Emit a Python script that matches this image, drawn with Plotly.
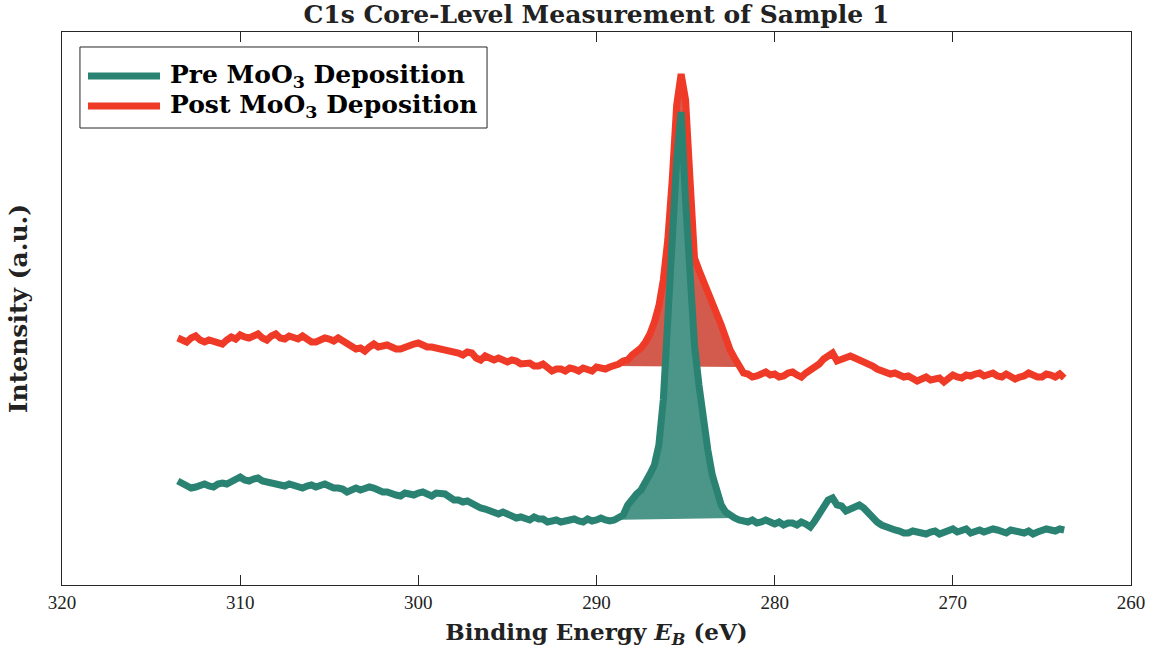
import plotly.graph_objects as go

# Binding energy grid (eV), 0.25 eV steps
energy = [313.5, 313.25, 313.0, 312.75, 312.5, 312.25, 312.0, 311.75, 311.5, 311.25,
          311.0, 310.75, 310.5, 310.25, 310.0, 309.75, 309.5, 309.25, 309.0, 308.75,
          308.5, 308.25, 308.0, 307.75, 307.5, 307.25, 307.0, 306.75, 306.5, 306.25,
          306.0, 305.75, 305.5, 305.25, 305.0, 304.75, 304.5, 304.25, 304.0, 303.75,
          303.5, 303.25, 303.0, 302.75, 302.5, 302.25, 302.0, 301.75, 301.5, 301.25,
          301.0, 300.75, 300.5, 300.25, 300.0, 299.75, 299.5, 299.25, 299.0, 298.75,
          298.5, 298.25, 298.0, 297.75, 297.5, 297.25, 297.0, 296.75, 296.5, 296.25,
          296.0, 295.75, 295.5, 295.25, 295.0, 294.75, 294.5, 294.25, 294.0, 293.75,
          293.5, 293.25, 293.0, 292.75, 292.5, 292.25, 292.0, 291.75, 291.5, 291.25,
          291.0, 290.75, 290.5, 290.25, 290.0, 289.75, 289.5, 289.25, 289.0, 288.75,
          288.5, 288.25, 288.0, 287.75, 287.5, 287.25, 287.0, 286.75, 286.5, 286.25,
          286.0, 285.75, 285.5, 285.25, 285.0, 284.75, 284.5, 284.25, 284.0, 283.75,
          283.5, 283.25, 283.0, 282.75, 282.5, 282.25, 282.0, 281.75, 281.5, 281.25,
          281.0, 280.75, 280.5, 280.25, 280.0, 279.75, 279.5, 279.25, 279.0, 278.75,
          278.5, 278.25, 278.0, 277.75, 277.5, 277.25, 277.0, 276.75, 276.5, 276.25,
          276.0, 275.75, 275.5, 275.25, 275.0, 274.75, 274.5, 274.25, 274.0, 273.75,
          273.5, 273.25, 273.0, 272.75, 272.5, 272.25, 272.0, 271.75, 271.5, 271.25,
          271.0, 270.75, 270.5, 270.25, 270.0, 269.75, 269.5, 269.25, 269.0, 268.75,
          268.5, 268.25, 268.0, 267.75, 267.5, 267.25, 267.0, 266.75, 266.5, 266.25,
          266.0, 265.75, 265.5, 265.25, 265.0, 264.75, 264.5, 264.25, 264.0, 263.75]

# Intensity (a.u., vertically offset for display)
post_moo3 = [247, 244, 243, 247, 249, 245, 243, 245, 244, 242,
             241, 245, 248, 246, 250, 248, 247, 249, 251, 247,
             245, 249, 251, 247, 246, 249, 248, 246, 249, 246,
             243, 243, 245, 247, 246, 244, 247, 244, 240, 239,
             236, 237, 234, 238, 241, 238, 239, 240, 238, 236,
             236, 238, 239, 241, 242, 239, 238, 238, 237, 237,
             235, 234, 233, 232, 230, 233, 232, 227, 225, 229,
             227, 225, 227, 224, 223, 225, 224, 221, 221, 222,
             219, 219, 221, 217, 214, 216, 216, 214, 217, 216,
             214, 217, 216, 214, 218, 217, 216, 218, 219, 221,
             224, 225, 230, 233, 237, 243, 251, 263, 279, 305,
             345, 405, 480, 511, 485, 405, 327, 315, 305, 293,
             283, 271, 260, 247, 235, 227, 218, 212, 211, 208,
             209, 211, 213, 210, 211, 208, 209, 212, 213, 210,
             208, 212, 215, 217, 221, 226, 229, 232, 224, 226,
             227, 229, 227, 225, 223, 222, 219, 216, 214, 212,
             211, 212, 210, 208, 209, 207, 204, 206, 208, 205,
             206, 207, 203, 206, 210, 208, 207, 210, 209, 211,
             212, 209, 211, 212, 209, 208, 211, 209, 206, 208,
             209, 212, 210, 208, 208, 211, 210, 208, 211, 207]

pre_moo3 = [104, 101, 100, 97, 98, 100, 101, 99, 98, 101,
            102, 101, 104, 105, 108, 105, 104, 106, 107, 104,
            103, 103, 101, 101, 99, 101, 100, 98, 97, 99,
            100, 98, 99, 101, 99, 97, 97, 96, 93, 96,
            97, 95, 96, 98, 97, 95, 93, 93, 91, 90,
            89, 92, 91, 90, 92, 93, 91, 89, 92, 91,
            91, 88, 85, 85, 83, 84, 81, 79, 77, 76,
            74, 72, 71, 73, 71, 68, 67, 68, 66, 65,
            68, 66, 66, 63, 64, 65, 63, 64, 65, 66,
            64, 63, 66, 64, 65, 67, 65, 64, 65, 67,
            70, 80, 86, 91, 95, 102, 111, 120, 140, 185,
            255, 345, 425, 473, 385, 310, 240, 200, 160, 135,
            110, 93, 80, 73, 69, 67, 65, 64, 63, 65,
            62, 63, 65, 63, 61, 63, 60, 62, 62, 60,
            63, 61, 58, 64, 72, 79, 85, 87, 80, 79,
            74, 76, 78, 80, 77, 72, 66, 63, 60, 58,
            56, 55, 54, 52, 52, 54, 53, 52, 51, 53,
            54, 51, 53, 55, 56, 53, 54, 56, 52, 54,
            55, 53, 54, 56, 55, 53, 52, 55, 54, 53,
            52, 54, 51, 53, 54, 56, 55, 54, 56, 55]

# Integration windows for the C1s peak (eV)
post_window = [289.0, 282.0]
pre_window = [289.5, 282.25]

series_names = ["Pre MoO<sub>3</sub> Deposition", "Post MoO<sub>3</sub> Deposition"]
x_ticks = [320, 310, 300, 290, 280, 270, 260]

RED = "#F03A28"
RED_FILL = "#D35B4D"
GREEN = "#2A8272"
GREEN_FILL = "#4B9688"


def peak_fill(xs, ys, window):
    hi, lo = window
    sel = [(x, y) for x, y in zip(xs, ys) if lo <= x <= hi]
    px = [p[0] for p in sel]
    py = [p[1] for p in sel]
    px += [px[-1], px[0]]
    py += [py[-1], py[0]]
    return px, py


fig = go.Figure()

fx, fy = peak_fill(energy, post_moo3, post_window)
fig.add_trace(go.Scatter(x=fx, y=fy, fill="toself", fillcolor=RED_FILL,
                         line=dict(width=0), mode="lines", hoverinfo="skip",
                         showlegend=False))
fig.add_trace(go.Scatter(x=energy, y=post_moo3, mode="lines",
                         line=dict(color=RED, width=7), name=series_names[1],
                         showlegend=False))
fx, fy = peak_fill(energy, pre_moo3, pre_window)
fig.add_trace(go.Scatter(x=fx, y=fy, fill="toself", fillcolor=GREEN_FILL,
                         line=dict(width=0), mode="lines", hoverinfo="skip",
                         showlegend=False))
fig.add_trace(go.Scatter(x=energy, y=pre_moo3, mode="lines",
                         line=dict(color=GREEN, width=7), name=series_names[0],
                         showlegend=False))

SERIF = "DejaVu Serif"

# Manual legend (MATLAB style)
leg_x0, leg_x1, leg_y0, leg_y1 = 0.0168, 0.3976, 0.8264, 0.9729
fig.add_shape(type="rect", xref="paper", yref="paper", x0=leg_x0, x1=leg_x1,
              y0=leg_y0, y1=leg_y1, line=dict(color="#262626", width=1),
              fillcolor="white", layer="above")
for name, color, yy in [(series_names[0], GREEN, 0.9204), (series_names[1], RED, 0.8662)]:
    fig.add_shape(type="line", xref="paper", yref="paper", x0=0.0243, x1=0.0917,
                  y0=yy, y1=yy, line=dict(color=color, width=7), layer="above")
    fig.add_annotation(xref="paper", yref="paper", x=0.0992, y=yy, text="<b>" + name + "</b>",
                       showarrow=False, xanchor="left", yanchor="middle",
                       font=dict(family=SERIF, size=25, color="black"))

fig.update_layout(
    width=1158, height=659,
    margin=dict(l=62, r=27, t=32, b=74),
    paper_bgcolor="white", plot_bgcolor="white",
    title=dict(text="<b>C1s Core-Level Measurement of Sample 1</b>", x=0.515, xanchor="center",
               y=0.979, yanchor="middle",
               font=dict(family=SERIF, size=25, color="#222222")),
    showlegend=False,
)
fig.update_xaxes(
    range=[320, 260], tickvals=x_ticks, ticktext=[str(t) for t in x_ticks],
    ticks="inside", ticklen=10, tickcolor="#262626", tickwidth=1,
    showline=True, linecolor="#262626", linewidth=1, mirror="ticks",
    showgrid=False, zeroline=False, automargin=False,
    tickfont=dict(family="Liberation Serif", size=19, color="#222222"),
    title=dict(text="<b>Binding Energy <i>E</i><sub><i>B</i></sub> (eV)</b>",
               font=dict(family=SERIF, size=23, color="#222222"), standoff=12),
)
fig.update_yaxes(
    range=[0, 553], showticklabels=False, ticks="",
    showline=True, linecolor="#262626", linewidth=1, mirror=True,
    showgrid=False, zeroline=False, automargin=False,
    title=dict(text="<b>Intensity (a.u.)</b>", font=dict(family=SERIF, size=25, color="#222222"),
               standoff=26),
)

fig.write_html("out.html")
